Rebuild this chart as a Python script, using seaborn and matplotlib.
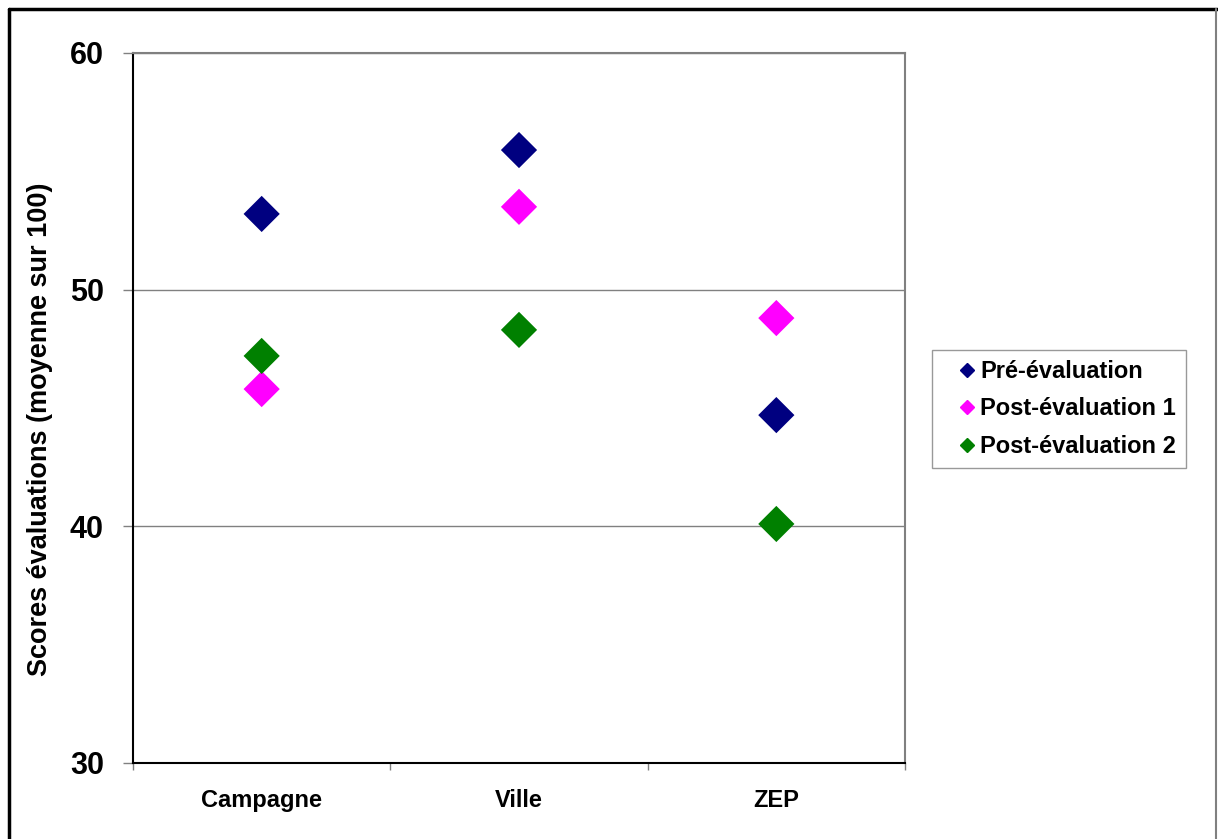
import matplotlib
matplotlib.use("Agg")
import matplotlib.pyplot as plt
from matplotlib.lines import Line2D
import seaborn as sns
import pandas as pd

# Données
categories = ['Campagne', 'Ville', 'ZEP']
series = ['Pré-évaluation', 'Post-évaluation 1', 'Post-évaluation 2']
pre_eval = [53.2, 55.9, 44.7]
post_eval_1 = [45.8, 53.5, 48.8]
post_eval_2 = [47.2, 48.3, 40.1]
couleurs = ['#000080', '#FF00FF', '#008000']

rows = []
for serie, vals in zip(series, [pre_eval, post_eval_1, post_eval_2]):
    for i, v in enumerate(vals):
        rows.append({'pos': i, 'groupe': serie, 'score': v})
df = pd.DataFrame(rows)

sns.set_style('white')
plt.rcParams['font.family'] = ['Liberation Sans', 'DejaVu Sans']
plt.rcParams['font.weight'] = 'bold'
plt.rcParams['text.color'] = 'black'
plt.rcParams['axes.labelcolor'] = 'black'
plt.rcParams['xtick.labelcolor'] = 'black'
plt.rcParams['ytick.labelcolor'] = 'black'

fig = plt.figure(figsize=(12.18, 8.39), dpi=100)
ax = fig.add_axes([133 / 1218, 1 - 763 / 839, (905 - 133) / 1218, (763 - 53) / 839])

sns.scatterplot(data=df, x='pos', y='score', hue='groupe', hue_order=series,
                palette=couleurs, marker='D', s=340, edgecolor='none', ax=ax,
                legend=False, zorder=3)

ax.set_xlim(-0.5, 2.5)
ax.set_ylim(30, 60)
ax.set_yticks([30, 40, 50, 60])
ax.set_yticklabels(['30', '40', '50', '60'], fontsize=22, fontweight='bold')
ax.yaxis.grid(True, color='#808080', linewidth=1)
ax.set_axisbelow(True)

# graduations aux limites des catégories, étiquettes au centre
ax.set_xticks([-0.5, 0.5, 1.5, 2.5])
ax.set_xticklabels([])
ax.set_xticks([0, 1, 2], minor=True)
ax.set_xticklabels(categories, minor=True, fontsize=17, fontweight='bold')
ax.tick_params(axis='x', which='minor', bottom=True, length=0, pad=19)
ax.tick_params(axis='x', which='major', bottom=True, direction='out', length=5,
               color='#808080', width=1)
ax.tick_params(axis='y', left=True, direction='out', length=7, color='#808080', width=1,
               pad=14)

ax.set_xlabel('')
ax.set_ylabel('Scores évaluations (moyenne sur 100)', fontsize=19.5, fontweight='bold')
ax.yaxis.set_label_coords((53 - 133) / 772, (763 - 429) / 710)

for side in ['left', 'bottom']:
    ax.spines[side].set_color('black')
    ax.spines[side].set_linewidth(1.5)
for side in ['top', 'right']:
    ax.spines[side].set_color('#808080')
    ax.spines[side].set_linewidth(1.5)

handles = [Line2D([], [], marker='D', linestyle='none', color=c, markersize=7.5)
           for c in couleurs]
leg = fig.legend(handles, series, loc='center left',
                 bbox_to_anchor=(932 / 1218, 1 - 409 / 839),
                 prop={'size': 17, 'weight': 'bold'}, frameon=True, fancybox=False,
                 handlelength=2.15, handletextpad=-0.52, borderpad=0.42, labelspacing=0.62,
                 borderaxespad=0)
leg.get_frame().set_edgecolor('#808080')
leg.get_frame().set_linewidth(1)

# cadre extérieur
fig.add_artist(Line2D([9 / 1218, 9 / 1218], [0, 1 - 9 / 839], color='black', linewidth=2.5,
                      transform=fig.transFigure))
fig.add_artist(Line2D([9 / 1218, 1217 / 1218], [1 - 9 / 839, 1 - 9 / 839], color='black',
                      linewidth=2.5, transform=fig.transFigure))
fig.add_artist(Line2D([1216 / 1218, 1216 / 1218], [0, 1 - 9 / 839], color='#808080',
                      linewidth=1.5, transform=fig.transFigure))

fig.savefig('out.png', dpi=100)
